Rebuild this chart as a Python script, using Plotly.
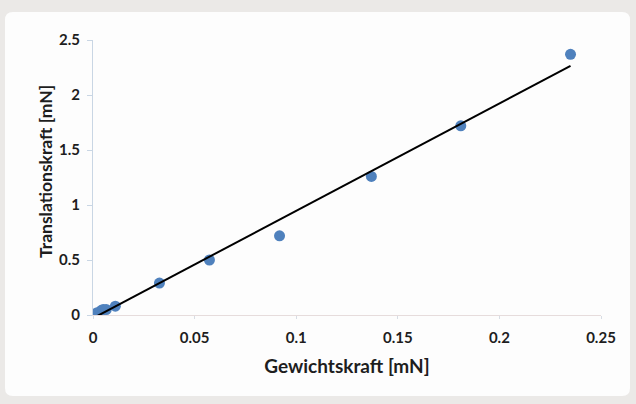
import numpy as np
import plotly.graph_objects as go

# data
gewicht = [0.001, 0.002, 0.004, 0.005, 0.0065, 0.011, 0.0327, 0.0573, 0.0918, 0.137, 0.181, 0.235]
translation = [0.01, 0.02, 0.04, 0.05, 0.05, 0.08, 0.29, 0.50, 0.72, 1.26, 1.72, 2.37]
x_ticks = [0, 0.05, 0.1, 0.15, 0.2, 0.25]
x_tick_text = ["0", "0.05", "0.1", "0.15", "0.2", "0.25"]
y_ticks = [0, 0.5, 1, 1.5, 2, 2.5]
y_tick_text = ["0", "0.5", "1", "1.5", "2", "2.5"]

slope, intercept = np.polyfit(gewicht, translation, 1)
trend_x = [0.002, max(gewicht)]
trend_y = [slope * v + intercept for v in trend_x]

W, H = 636, 404
L, R, T, B = 93, 35, 40, 89
pw, ph = W - L - R, H - T - B

def px(x):
    return (x - L) / pw

def py(y):
    return (H - B - y) / ph

fig = go.Figure()
fig.add_trace(go.Scatter(x=gewicht, y=translation, mode="markers",
                         marker=dict(color="#4f81bd", size=11), showlegend=False))
fig.add_trace(go.Scatter(x=trend_x, y=trend_y, mode="lines",
                         line=dict(color="black", width=2), showlegend=False))

# white rounded panel
x0, x1, y0, y1 = px(5), px(630), py(396), py(12)
r = 8
rx, ry = r / pw, r / ph
path = (f"M {x0+rx},{y0} L {x1-rx},{y0} Q {x1},{y0} {x1},{y0+ry} "
        f"L {x1},{y1-ry} Q {x1},{y1} {x1-rx},{y1} L {x0+rx},{y1} "
        f"Q {x0},{y1} {x0},{y1-ry} L {x0},{y0+ry} Q {x0},{y0} {x0+rx},{y0} Z")
fig.add_shape(type="path", path=path, xref="paper", yref="paper",
              fillcolor="#fdfdfd", line=dict(width=0), layer="below")

font = "Lato, 'Open Sans', sans-serif"
tickfont = dict(size=15, family=font, color="#1e1e1e")

fig.add_annotation(text="<b>Translationskraft [mN]</b>", textangle=-90,
                   xref="paper", yref="paper", x=px(45), y=py(172),
                   xanchor="center", yanchor="middle", showarrow=False,
                   font=dict(size=17.5, family=font, color="#1e1e1e"))

fig.update_layout(
    width=W, height=H,
    margin=dict(l=L, r=R, t=T, b=B),
    paper_bgcolor="#ebe9e7",
    plot_bgcolor="rgba(0,0,0,0)",
    font=dict(family=font, color="#1e1e1e"),
    xaxis=dict(range=[0, 0.25], tickvals=x_ticks,
               ticktext=[f"<b>{t}</b>" for t in x_tick_text],
               showgrid=False, zeroline=False, showline=True, linecolor="#e6dcdc",
               ticks="outside", ticklen=3, tickcolor="#d8dde4",
               ticklabelstandoff=6,
               tickfont=tickfont, automargin=False,
               title=dict(text="<b>Gewichtskraft [mN]</b>", font=dict(size=19), standoff=14)),
    yaxis=dict(range=[0, 2.5], tickvals=y_ticks,
               ticktext=[f"<b>{t}</b>" for t in y_tick_text],
               showgrid=False, zeroline=False, showline=True, linecolor="#c9d6e4",
               ticks="outside", ticklen=5, tickcolor="#c9d6e4", tickfont=tickfont,
               ticklabelstandoff=4,
               automargin=False),
)
fig.write_html("out.html", config={"displayModeBar": False},
               post_script="document.body.style.margin='0';")
